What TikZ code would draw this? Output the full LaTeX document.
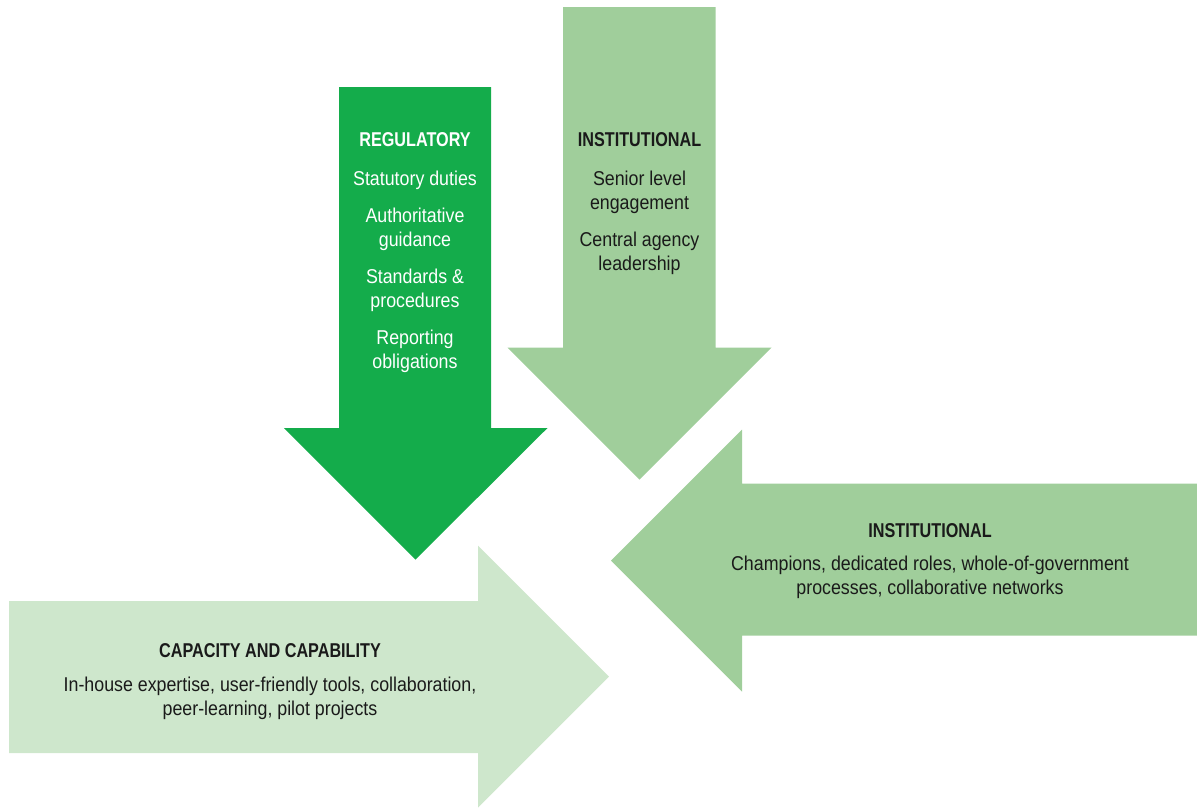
\documentclass[tikz,border=0pt]{standalone}
\usepackage{fontspec}
\setmainfont{Liberation Sans}[FakeStretch=0.89,BoldFeatures={FakeStretch=0.81}]
\definecolor{regul}{HTML}{14AC4B}
\definecolor{instit}{HTML}{A0CE9B}
\definecolor{capac}{HTML}{CEE7CC}
\definecolor{ink}{HTML}{1A1A1A}

\begin{document}
\begin{tikzpicture}[x=1pt,y=-1pt]
\tikzset{titre/.style={font=\fontsize{20}{24}\selectfont\bfseries, inner sep=0pt},
         texte/.style={font=\fontsize{20}{24}\selectfont, align=center, inner sep=0pt, anchor=north}}
\useasboundingbox (0,0) rectangle (1197,807);
\fill[instit] (563,7) -- (715.5,7) -- (715.5,347.5) -- (771.5,347.5) -- (639.5,479.5)
  -- (507.5,347.5) -- (563,347.5) -- cycle;
\fill[regul] (339,87) -- (491,87) -- (491,428) -- (547.5,428) -- (415.5,559.5)
  -- (284,428) -- (339,428) -- cycle;
\fill[instit] (1197,483.5) -- (742,483.5) -- (742,429.5) -- (611,560.5)
  -- (742,691.5) -- (742,635.5) -- (1197,635.5) -- cycle;
\fill[capac] (9,601) -- (478,601) -- (478,545.5) -- (609,676.5)
  -- (478,807.5) -- (478,753) -- (9,753) -- cycle;
\node[titre, white] (T1) at (415,140) {REGULATORY};
\node[texte, white] (B1) at (415,171) {Statutory duties\\[13pt] Authoritative\\ guidance\\[13pt]
  Standards \&\\ procedures\\[13pt] Reporting\\ obligations};
\node[titre, ink] (T2) at (639.5,140) {INSTITUTIONAL};
\node[texte, ink] (B2) at (639.5,171) {Senior level\\ engagement\\[13pt] Central agency\\ leadership};
\node[titre, ink] (T3) at (930,531) {INSTITUTIONAL};
\node[texte, ink] (B3) at (930,556) {Champions, dedicated roles, whole-of-government\\
  processes, collaborative networks};
\node[titre, ink] (T4) at (270,651) {CAPACITY AND CAPABILITY};
\node[texte, ink] (B4) at (270,677) {In-house expertise, user-friendly tools, collaboration,\\
  peer-learning, pilot projects};
\end{tikzpicture}
\end{document}
